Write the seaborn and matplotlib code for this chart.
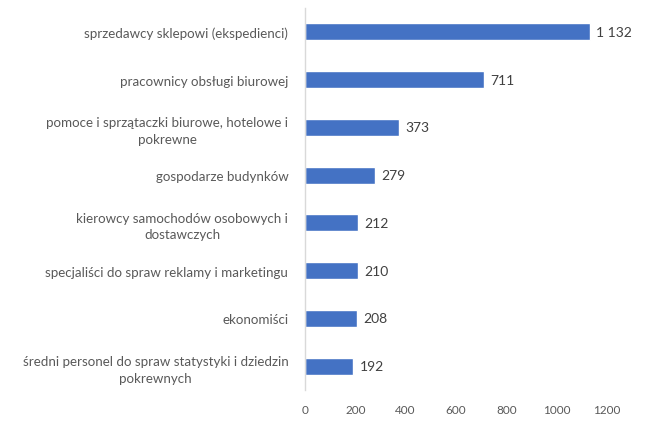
import matplotlib
matplotlib.use("Agg")
import matplotlib.pyplot as plt
import seaborn as sns
import pandas as pd

categories = [
    "sprzedawcy sklepowi (ekspedienci)",
    "pracownicy obsługi biurowej",
    "pomoce i sprzątaczki biurowe, hotelowe i\npokrewne",
    "gospodarze budynków",
    "kierowcy samochodów osobowych i\ndostawczych",
    "specjaliści do spraw reklamy i marketingu",
    "ekonomiści",
    "średni personel do spraw statystyki i dziedzin\npokrewnych",
]
values = [1132, 711, 373, 279, 212, 210, 208, 192]
xticks = [0, 200, 400, 600, 800, 1000, 1200]

df = pd.DataFrame({"kategoria": categories, "wartosc": values})

sns.set_theme(style="white")
plt.rcParams["font.family"] = ["Lato", "DejaVu Sans"]

fig = plt.figure(figsize=(6.45, 4.27), dpi=100)
ax = fig.add_axes([305 / 645, 1 - 391 / 427, (607 - 305) / 645, (391 - 9) / 427])

sns.barplot(data=df, x="wartosc", y="kategoria", orient="h", color="#4472C4",
            width=0.36, saturation=1, ax=ax)

ax.set_xlim(0, 1200)
ax.set_xticks(xticks)
ax.set_xticklabels([str(t) for t in xticks])
ax.set_xlabel("")
ax.set_ylabel("")

for s in ["top", "right", "bottom"]:
    ax.spines[s].set_visible(False)
ax.spines["left"].set_color("#D9D9D9")
ax.spines["left"].set_linewidth(1)

ax.tick_params(axis="x", length=0, labelsize=8.5, labelcolor="#595959", pad=10)
ax.tick_params(axis="y", length=0, labelsize=9.6, labelcolor="#595959", pad=12)
for lbl in ax.get_yticklabels():
    lbl.set_multialignment("center")
    lbl.set_linespacing(1.45)

for i, v in enumerate(values):
    txt = f"{v:,}".replace(",", " ")
    ax.text(v + 25, i, txt, va="center", ha="left", fontsize=10, color="#404040")

fig.savefig("out.png", dpi=100)
